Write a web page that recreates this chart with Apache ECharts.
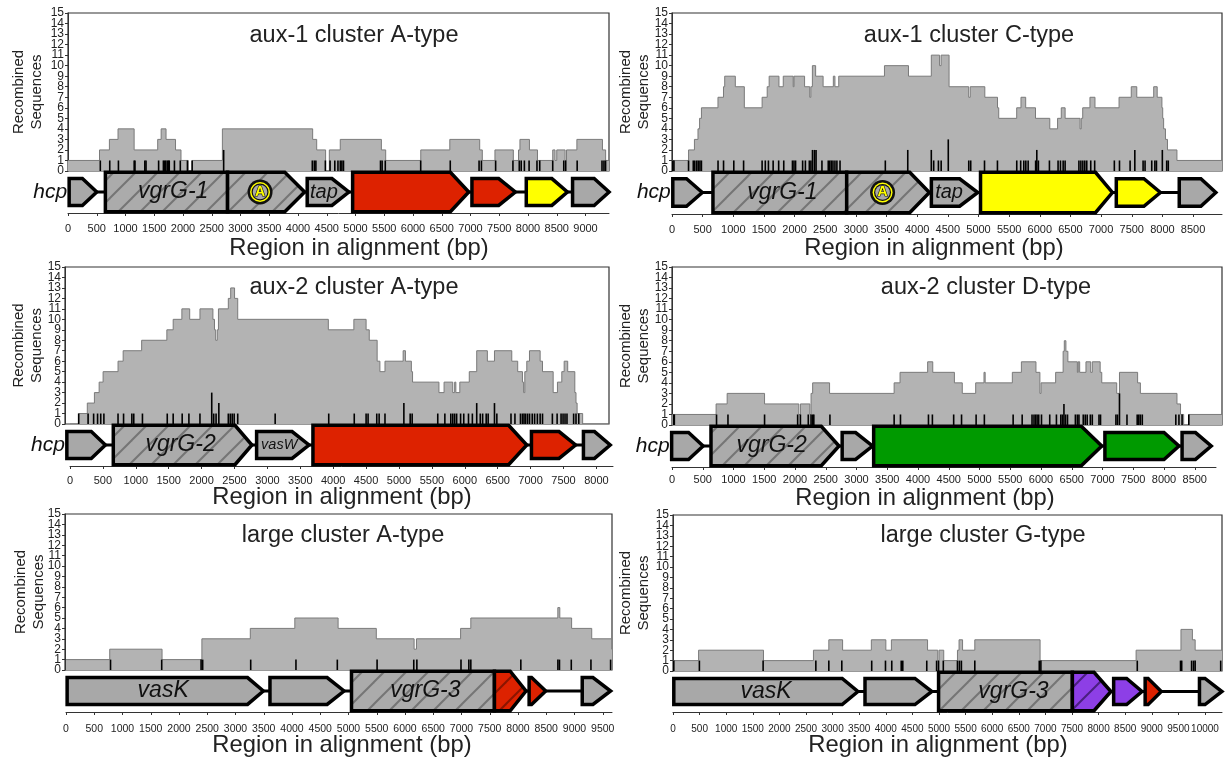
<!DOCTYPE html>
<html><head><meta charset="utf-8">
<style>html,body{margin:0;padding:0;background:#fff}#c{width:1232px;height:759px}</style>
<script src="https://cdn.jsdelivr.net/npm/echarts@6/dist/echarts.min.js"></script>
</head><body><div id="c"></div>
<script>
// ---------- data: coverage breakpoints [bp, recombined sequences] ----------
const aux1A_steps = [[0,1],[548,2],[720,3],[870,4],[1150,2],[1560,3],[1620,4],[1705,3],[1870,2],[1965,1],[2090,0],[2160,1],[2685,4],[4255,3],[4325,2],[4480,0],[4545,2],[4735,3],[5450,2],[5525,1],[6135,2],[6640,3],[7160,2],[7205,1],[7425,2],[7745,1],[7835,2],[7860,3],[8025,2],[8165,1],[8430,2],[8470,1],[8500,2],[8645,1],[8670,2],[8850,3],[9295,2],[9350,1],[9420,1]];
const aux1C_steps = [[0,1],[270,2],[366,3],[424,4],[450,5],[480,6],[750,7],[840,8],[860,9],[1033,8],[1180,6],[1470,7],[1553,8],[1585,9],[1745,8],[1815,9],[1977,8],[1990,9],[2163,8],[2247,7],[2265,8],[2290,10],[2343,9],[2465,8],[2632,9],[2658,8],[2720,9],[3466,10],[3858,9],[4230,11],[4365,10],[4390,11],[4520,8],[4840,7],[4865,8],[5103,7],[5310,6],[5330,5],[5623,6],[5693,7],[5770,6],[5930,5],[6163,4],[6290,5],[6350,6],[6413,5],[6657,4],[6676,5],[6700,6],[6818,7],[6900,6],[7293,7],[7492,8],[7582,7],[7858,8],[7915,7],[7992,6],[8005,5],[8020,4],[8050,3],[8083,2],[8237,1],[8980,1]];
const aux2A_steps = [[0,0],[132,1],[263,2],[371,3],[443,4],[503,5],[730,6],[808,7],[1089,8],[1472,9],[1568,10],[1700,11],[1819,10],[1975,11],[2172,10],[2196,9],[2214,8],[2238,9],[2256,11],[2406,12],[2442,13],[2501,12],[2549,10],[3926,9],[4314,10],[4500,9],[4548,8],[4668,6],[4710,5],[4787,6],[5063,7],[5098,6],[5188,5],[5206,4],[5607,3],[5685,4],[5817,3],[5846,4],[5864,3],[5924,4],[6068,5],[6181,7],[6343,6],[6451,7],[6714,6],[6804,5],[6876,4],[6894,3],[6912,5],[6942,6],[6983,7],[7145,6],[7181,5],[7343,3],[7408,4],[7474,5],[7510,6],[7564,5],[7672,3],[7690,2],[7707,1],[7791,0],[8200,0]];
const aux2D_steps = [[0,1],[717,2],[897,3],[1505,2],[2062,1],[2088,2],[2242,1],[2261,3],[2287,4],[2562,3],[3612,4],[3708,5],[4157,6],[4240,5],[4592,4],[4720,3],[4938,4],[5073,5],[5092,4],[5534,5],[5681,6],[5918,5],[5982,3],[6001,4],[6238,5],[6360,7],[6379,8],[6405,7],[6437,6],[6591,5],[6605,6],[6629,5],[6731,6],[6808,5],[6834,6],[6962,5],[6988,4],[7231,3],[7276,5],[7571,4],[7616,3],[8211,2],[8269,1],[8320,0],[8403,1],[8960,1]];
const largeA_steps = [[0,1],[774,2],[1700,1],[2405,3],[3262,4],[4050,5],[4816,4],[5492,3],[6161,2],[6203,3],[6984,4],[7165,5],[8705,6],[8740,5],[8949,4],[9305,3],[9660,2],[9680,2]];
const largeG_steps = [[0,1],[481,2],[1701,1],[2640,2],[2929,3],[3188,2],[3728,3],[4001,2],[4105,3],[4785,2],[4977,1],[5000,2],[5089,1],[5347,2],[5377,3],[5443,2],[5673,3],[6900,1],[8705,2],[9548,4],[9763,3],[9815,2],[10320,2]];

// breakpoint ticks: height 1
const aux1A_ticks = [562,726,877,1151,1165,1336,1357,1576,1659,1679,1700,1727,1748,1761,1851,1953,2077,2159,4249,4284,4311,4476,4558,4640,4695,4736,4763,4791,5435,5463,5518,6134,6648,7149,7190,7437,7738,7848,7882,7937,8019,8156,8204,8430,8622,8656,8855,9287,9321,9349];
const aux1C_ticks = [13,32,270,347,372,404,430,456,480,751,841,1008,1168,1470,1522,1573,1650,1740,1823,1965,1990,2016,2131,2176,2240,2266,2446,2549,2574,2600,2626,2658,2690,2741,3480,4269,4346,4391,4841,4873,5098,5309,5624,5688,5739,5772,5810,5932,5977,6157,6298,6337,6381,6413,6638,6670,6702,6734,6766,6831,6895,7216,7300,7473,7685,7717,7826,7877,7903,8070,8096];
const aux2A_ticks = [132,275,359,419,467,515,730,814,940,969,1101,1478,1568,1705,1807,1975,2184,2220,2406,2436,2465,2495,2549,3118,3932,4320,4500,4530,4662,4698,4787,5170,5200,5589,5697,5787,5817,5846,5876,5936,5984,6056,6115,6235,6271,6325,6355,6487,6702,6762,6846,6876,6900,6924,6954,6984,7025,7061,7103,7145,7181,7331,7403,7463,7493,7523,7553,7654,7690,7732];
const aux2D_ticks = [26,38,724,910,1505,2043,2088,2216,2261,2287,2306,2568,3612,3715,4170,4234,4580,4708,4945,5079,5547,5694,5854,5886,5912,5937,5963,6008,6142,6251,6322,6348,6399,6431,6559,6591,6617,6687,6719,6751,6802,6834,6943,6968,7218,7244,7398,7564,7589,7615,7647,8192,8243,8294,8403];
const largeA_ticks = [788,1694,2391,2419,3269,4070,4802,5506,6155,6210,6991,7130,7165,8050,8706,8734,8943,9291,9639];
const largeG_ticks = [15,496,1694,2685,2929,3173,3735,3994,4112,4290,4319,4770,4955,4992,5081,5347,5384,5421,5673,6885,6915,8727,9540,9562,9748,9785,9815,10295];
// taller ticks: [bp, height]
const aux1A_tall = [[2707,2]];
const aux1C_tall = [[2292,2],[2324,2],[2350,2],[3846,2],[4230,2],[4507,3],[5951,2],[7550,2],[7999,2]];
const aux2A_tall = [[2154,3],[2262,2],[5074,2],[6181,2],[6451,2]];
const aux2D_tall = [[6373,2],[7276,3]];
const largeA_tall = [];
const largeG_tall = [];

// genes: [label, start bp, arrow-head bp, tip bp, tier, kind, label bp]
const aux1A_genes = [['hcp',20,250,500,'small','plain',-1],['vgrG-1',650,2775,2775,'big','hatch',1830],['',2775,3770,4115,'big','hatch',0],['tap',4160,4590,4885,'small','plain',4450],['',4950,6650,6970,'big','red',0],['',7025,7490,7780,'small','red',0],['',7970,8415,8685,'small','yellow',0],['',8775,9150,9410,'small','plain',0]];
const aux1C_genes = [['hcp',13,237,494,'small','plain',-1],['vgrG-1',668,2850,2850,'big','hatch',1800],['',2850,3878,4199,'big','hatch',0],['tap',4231,4693,4988,'small','plain',4520],['',5033,6908,7184,'big','yellow',0],['',7248,7698,7967,'small','yellow',0],['',8275,8628,8872,'small','plain',0]];
const aux2A_genes = [['hcp',-48,323,538,'small','plain',-1],['vgrG-2',658,2507,2765,'big','hatch',1680],['vasW',2836,3375,3632,'small','plain',3180],['',3692,6666,6942,'big','red',0],['',7013,7432,7684,'small','red',0],['',7803,7971,8210,'small','plain',0]];
const aux2D_genes = [['hcp',-6,269,506,'small','plain',-1],['vgrG-2',634,2427,2716,'big','hatch',1620],['',2767,2985,3260,'small','plain',0],['',3279,6655,6988,'big','green',0],['',7039,8000,8243,'small','green',0],['',8294,8512,8768,'small','plain',0]];
const largeA_genes = [['vasK',20,3213,3492,'small','plain',1720],['',3610,4621,4921,'small','plain',0],['vgrG-3',5053,7583,7583,'big','hatch',6360],['',7583,7862,8141,'big','hatchRed',0],['',8197,8240,8490,'small','red',0],['',9137,9326,9639,'small','plain',0]];
const largeG_genes = [['vasK',15,3180,3476,'small','plain',1750],['',3609,4548,4866,'small','plain',0],['vgrG-3',4992,7507,7507,'big','hatch',6400],['',7507,7914,8232,'big','hatchPurple',0],['',8283,8527,8816,'small','purple',0],['',8875,8930,9178,'small','red',0],['',9896,10000,10318,'small','plain',0]];

// antitoxin marker position (bp)
const aux1A_marks = [3340];
const aux1C_marks = [3435];

const tickLabels = {interval:500};
const yTicks = {min:0,max:15,interval:1};
const yTickLabels = [0,1,2,3,4,5,6,7,8,9,10,11,12,13,14,15];

// ---------- layout ----------
const panels = [
 {t:'aux-1 cluster A-type',steps:aux1A_steps,ticks:aux1A_ticks,tall:aux1A_tall,genes:aux1A_genes,marks:aux1A_marks,L:68,R:609,T:13,B:171,aL:68,aR:609,aY:213,s:.0575,tx:354,ty:34,xx:359,xy:247,fs:11,m:10,ng:22},
 {t:'aux-1 cluster C-type',steps:aux1C_steps,ticks:aux1C_ticks,tall:aux1C_tall,genes:aux1C_genes,marks:aux1C_marks,L:672,R:1222,T:13,B:171,aL:672,aR:1222,aY:214,s:.0613,tx:969,ty:34,xx:934,xy:247,fs:11,m:10,ng:19},
 {t:'aux-2 cluster A-type',steps:aux2A_steps,ticks:aux2A_ticks,tall:aux2A_tall,genes:aux2A_genes,marks:[],L:65,R:609,T:267,B:424,aL:70,aR:613,aY:466,s:.0658,tx:354,ty:286,xx:342,xy:496,fs:11,m:9,ng:19},
 {t:'aux-2 cluster D-type',steps:aux2D_steps,ticks:aux2D_ticks,tall:aux2D_tall,genes:aux2D_genes,marks:[],L:672,R:1222,T:267,B:425,aL:672,aR:1216,aY:467,s:.0615,tx:986,ty:286,xx:925,xy:497,fs:11,m:7,ng:19},
 {t:'large cluster A-type',steps:largeA_steps,ticks:largeA_ticks,tall:largeA_tall,genes:largeA_genes,marks:[],L:65,R:612,T:514,B:670,aL:66,aR:612,aY:712,s:.0565,tx:343,ty:534,xx:342,xy:744,fs:10.5,m:12,ng:17},
 {t:'large cluster G-type',steps:largeG_steps,ticks:largeG_ticks,tall:largeG_tall,genes:largeG_genes,marks:[],L:673,R:1222,T:515,B:671,aL:673,aR:1222,aY:712,s:.0532,tx:983,ty:534,xx:938,xy:744,fs:10,m:12,ng:20}
];
const W=1232,H=759,FONT='"Liberation Sans",Arial,sans-serif';

function hatch(bg,line){
  const n=22,c=document.createElement('canvas');c.width=c.height=n;
  const g=c.getContext('2d');g.fillStyle=bg;g.fillRect(0,0,n,n);
  g.strokeStyle=line;g.lineWidth=2;
  [[-n,n,n,-n],[0,n,n,0],[0,2*n,2*n,0]].forEach(a=>{g.beginPath();g.moveTo(a[0],a[1]);g.lineTo(a[2],a[3]);g.stroke();});
  return {image:c,repeat:'repeat'};
}
const paints={plain:'#a8a8a8',red:'#dd2200',yellow:'#ffff00',green:'#009a00',purple:'#8d3fe6',
  hatch:hatch('#ababab','#757575'),hatchRed:hatch('#dd2200','#8a1500'),hatchPurple:hatch('#8d3fe6','#4a1f80')};

const option={animation:false,backgroundColor:'#fff',title:[],grid:[],xAxis:[],yAxis:[],series:[]};

panels.forEach((p,i)=>{
  const gp=2*i,gg=2*i+1;
  const plotMin=(p.L-p.aL)/p.s, plotMax=(p.R-p.aL)/p.s, axMax=(p.aR-p.aL)/p.s;
  option.title.push({text:p.t,left:p.tx-5,top:p.ty-15,textAlign:'center',textStyle:{fontFamily:FONT,fontSize:23.5,fontWeight:'normal',color:'#222'}});
  option.title.push({text:'Region in alignment (bp)',left:p.xx-5,top:p.xy-16,textAlign:'center',textStyle:{fontFamily:FONT,fontSize:23.8,fontWeight:'normal',color:'#222'}});
  option.grid.push({left:p.L,top:p.T,width:p.R-p.L,height:p.B-p.T,show:true,borderColor:'#333',borderWidth:1.2,backgroundColor:'#fff',outerBoundsMode:'none'});
  option.grid.push({left:p.aL,top:p.B,width:p.aR-p.aL,height:p.aY-p.B,outerBoundsMode:'none'});
  option.xAxis.push({type:'value',gridIndex:gp,min:plotMin,max:plotMax,show:false});
  option.xAxis.push({type:'value',gridIndex:gg,min:0,max:axMax,interval:tickLabels.interval,position:'bottom',splitLine:{show:false},
    axisLine:{show:true,onZero:false,lineStyle:{color:'#333',width:1}},axisTick:{show:true,length:3,lineStyle:{color:'#333'}},
    axisLabel:{fontFamily:FONT,fontSize:p.fs,color:'#222',margin:p.m,showMaxLabel:false,formatter:v=>v%500===0?String(v):''}});
  option.yAxis.push({type:'value',gridIndex:gp,min:yTicks.min,max:yTicks.max,interval:yTicks.interval,splitLine:{show:false},
    axisLine:{show:true,onZero:false,lineStyle:{color:'#333'}},axisTick:{show:true,length:3,lineStyle:{color:'#333'}},
    axisLabel:{show:false},
    name:'Recombined\nSequences',nameLocation:'middle',nameRotate:90,nameGap:p.ng,
    nameTextStyle:{fontFamily:FONT,fontSize:15,color:'#222',lineHeight:18}});
  option.yAxis.push({type:'value',gridIndex:gg,min:0,max:1,show:false});
  // y tick labels: every integer kept, placed through the y scale
  option.series.push({type:'custom',xAxisIndex:gp,yAxisIndex:gp,coordinateSystem:'cartesian2d',data:yTickLabels.map(v=>[plotMin,v]),z:7,silent:true,clip:false,
    encode:{x:0,y:1},renderItem:(pm,api)=>{
      const c=api.coord([plotMin,api.value(1)]);
      return {type:'text',style:{text:String(api.value(1)),x:c[0]-4,y:c[1],align:'right',verticalAlign:'middle',fontFamily:FONT,fontSize:12,fill:'#222'}};
    }});
  // stepped coverage: one filled outline, projected through the axes
  option.series.push({type:'custom',xAxisIndex:gp,yAxisIndex:gp,coordinateSystem:'cartesian2d',data:p.steps,z:2,silent:true,clip:true,
    encode:{x:0,y:1},renderItem:(pm,api)=>{
      if(pm.dataIndex!==0) return null;
      const line=[];
      p.steps.forEach((st,k)=>{
        line.push(api.coord([st[0],st[1]]));
        if(k<p.steps.length-1) line.push(api.coord([p.steps[k+1][0],st[1]]));
      });
      const base0=api.coord([p.steps[0][0],0]),base1=api.coord([p.steps[p.steps.length-1][0],0]);
      return {type:'group',children:[
        {type:'polygon',shape:{points:[base0].concat(line,[base1])},style:{fill:'#b3b3b3',stroke:'none'}},
        {type:'polyline',shape:{points:line},style:{fill:'none',stroke:'#7a7a7a',lineWidth:1,lineJoin:'miter'}}
      ]};
    }});
  const tickData=p.ticks.map(x=>[x,1]).concat(p.tall);
  option.series.push({type:'custom',xAxisIndex:gp,yAxisIndex:gp,coordinateSystem:'cartesian2d',data:tickData,z:3,silent:true,clip:true,
    encode:{x:0,y:1},renderItem:(pm,api)=>{
      const a=api.coord([api.value(0),0]),b=api.coord([api.value(0),api.value(1)]);
      return {type:'line',shape:{x1:a[0],y1:a[1],x2:b[0],y2:b[1]},style:{stroke:'#000',lineWidth:1.6}};
    }});
  // connector running under the gene arrows
  const first=p.genes[0],last=p.genes[p.genes.length-1];
  option.series.push({type:'line',xAxisIndex:gg,yAxisIndex:gg,data:[[first[1],.5],[last[3],.5]],symbol:'none',silent:true,z:4,
    lineStyle:{color:'#000',width:3}});
  const rows=p.genes.map((g,k)=>[g[1],g[2],g[3],k]);
  option.series.push({type:'custom',xAxisIndex:gg,yAxisIndex:gg,coordinateSystem:'cartesian2d',data:rows,z:5,silent:true,clip:false,
    encode:{x:[0,1,2]},renderItem:(pm,api)=>{
      const g=p.genes[api.value(3)],half=g[4]==='big'?.47:.32;
      const s=api.coord([api.value(0),.5+half]),h=api.coord([api.value(1),.5-half]),e=api.coord([api.value(2),.5]);
      const top=s[1],bot=h[1],mid=e[1],lw=3.5;
      const pts=h[0]>=e[0]?[[s[0],top],[e[0],top],[e[0],bot],[s[0],bot]]:[[s[0],top],[h[0],top],[e[0],mid],[h[0],bot],[s[0],bot]];
      const kids=[{type:'polygon',shape:{points:pts},style:{fill:paints[g[5]],stroke:'#000',lineWidth:lw,lineJoin:'miter'}}];
      if(g[0]){
        const hc=g[0]==='hcp';
        const fs=g[0]==='vasW'?14.5:(g[0]==='tap'?20:(hc?21:23));
        const x=hc?s[0]-2:api.coord([g[6],.5])[0];
        kids.push({type:'text',style:{text:g[0],x:x,y:mid,align:hc?'right':'center',verticalAlign:'middle',fontFamily:FONT,fontStyle:'italic',fontSize:fs,fill:'#111'},z2:5});
      }
      return {type:'group',children:kids};
    }});
  if(p.marks.length){
    option.series.push({type:'custom',xAxisIndex:gg,yAxisIndex:gg,coordinateSystem:'cartesian2d',data:p.marks.map(m=>[m,.5]),z:6,silent:true,encode:{x:0,y:1},
      renderItem:(pm,api)=>{
        const c=api.coord([api.value(0),.5]);
        return {type:'group',children:[
          {type:'circle',shape:{cx:c[0],cy:c[1],r:12.5},style:{fill:'#111'}},
          {type:'circle',shape:{cx:c[0],cy:c[1],r:10},style:{fill:'#ffff00'}},
          {type:'circle',shape:{cx:c[0],cy:c[1],r:8.5},style:{fill:'#111'}},
          {type:'circle',shape:{cx:c[0],cy:c[1],r:7.3},style:{fill:'#a8a8a8'}},
          {type:'text',style:{text:'A',x:c[0],y:c[1],align:'center',verticalAlign:'middle',fontFamily:FONT,fontWeight:'bold',fontSize:14,fill:'#ffff00',stroke:'#111',lineWidth:1.2}}
        ]};
      }});
  }
});
echarts.init(document.getElementById('c'),null,{renderer:'canvas',width:W,height:H}).setOption(option);
</script></body></html>
